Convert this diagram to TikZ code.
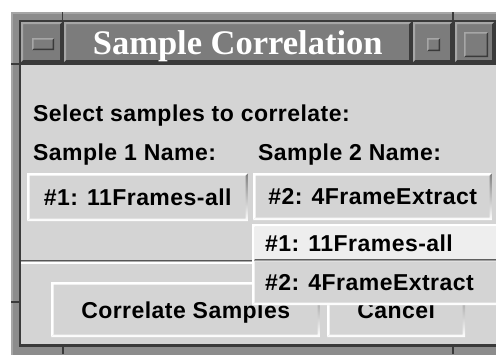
\documentclass[tikz,border=0pt]{standalone}
\usepackage{fontspec}
\setmainfont{Liberation Sans}
\newfontfamily\titlefont{Liberation Serif}
\newfontfamily\dialogfamily{Liberation Sans}[LetterSpace=2.0]
\usetikzlibrary{calc}

\definecolor{face}{RGB}{212,212,212}
\definecolor{shade}{RGB}{136,136,136}
\definecolor{selface}{RGB}{238,238,238}
\definecolor{wmface}{RGB}{124,124,124}
\definecolor{wmlight}{RGB}{166,166,166}
\definecolor{wmdark}{RGB}{58,58,58}
\definecolor{wmframe}{RGB}{140,140,140}

\newcommand{\uifont}{\dialogfamily\bfseries\fontsize{23}{26}\selectfont}

\tikzset{
  % raised 3D edge: light on top/left, dark on bottom/right
  bevel/.style n args={3}{path picture={
    \fill[#2] let \p1=(path picture bounding box.north west),
                  \p2=(path picture bounding box.south east) in
      (\x1,\y2) -- (\x1,\y1) -- (\x2,\y1) -- (\x2-#1,\y1-#1)
      -- (\x1+#1,\y1-#1) -- (\x1+#1,\y2+#1) -- cycle;
    \fill[#3] let \p1=(path picture bounding box.north west),
                  \p2=(path picture bounding box.south east) in
      (\x1,\y2) -- (\x2,\y2) -- (\x2,\y1) -- (\x2-#1,\y1-#1)
      -- (\x2-#1,\y2+#1) -- (\x1+#1,\y2+#1) -- cycle;
  }},
  wmbtn/.style={anchor=north west, inner sep=0pt, fill=wmface,
    bevel={2pt}{wmlight}{wmdark}},
  wmglyph/.style={anchor=north west, inner sep=0pt, fill=wmface,
    bevel={1.5pt}{wmlight}{wmdark}},
  pushbtn/.style={anchor=north west, inner sep=0pt, fill=face,
    bevel={2.5pt}{white}{shade}, font=\uifont, text depth=0pt},
  caption/.style={anchor=base west, inner sep=0pt, font=\uifont},
  menubox/.style={anchor=north west, inner sep=0pt, fill=face,
    bevel={2.5pt}{white}{shade}},
  menusel/.style={anchor=north west, inner sep=0pt, fill=selface},
  notch/.style={wmdark, line width=1.5pt},
}

\begin{document}
\begin{tikzpicture}[x=1pt, y=-1pt]
  \useasboundingbox (0,0) rectangle (496,354);
  \clip (0,0) rectangle (496,354);
  \fill[white] (0,0) rectangle (496,354);

  % window manager frame
  \fill[wmlight] (11,12) rectangle (500,360);
  \fill[wmframe] (13,14) rectangle (500,360);
  \fill[wmdark] (19,20) rectangle (500,347);
  % frame corner notches
  \draw[notch] (62.5,12) -- (62.5,20);
  \draw[notch] (453,12) -- (453,20);
  \draw[notch] (11,64) -- (19,64);
  \draw[notch] (11,302) -- (19,302);
  \draw[notch] (63,347) -- (63,354);
  \draw[notch] (453,347) -- (453,354);

  % title row
  \node[wmbtn, minimum width=41pt, minimum height=40pt] (closebtn) at (21,22) {};
  \node[wmglyph, minimum width=22pt, minimum height=12pt] (closeglyph) at (32,38) {};
  \node[wmbtn, minimum width=347pt, minimum height=40pt, text=white,
        font=\titlefont\bfseries\fontsize{34.5}{40}\selectfont, text depth=0pt]
        (titlebar) at (64,22) {Sample Correlation};
  \node[wmbtn, minimum width=39pt, minimum height=40pt] (minbtn) at (413,22) {};
  \node[wmglyph, minimum width=13pt, minimum height=13pt] (minglyph) at (427,38) {};
  \node[wmbtn, minimum width=39pt, minimum height=40pt] (maxbtn) at (455,22) {};
  \node[wmglyph, minimum width=24pt, minimum height=25pt] (maxglyph) at (464,32) {};

  % dialog body
  \fill[face] (21,65) rectangle (500,344);

  \node[caption] (prompt) at (33,121.5) {Select samples to correlate:};
  \node[caption] (name1) at (33,160) {Sample 1 Name:};
  \node[caption] (name2) at (258,160) {Sample 2 Name:};

  \node[pushbtn, minimum width=221pt, minimum height=48pt] (pick1) at (27,173) {\#1: 11Frames-all};
  \node[pushbtn, minimum width=239pt, minimum height=47pt] (pick2) at (253,173) {\#2: 4FrameExtract};

  % separator above the action buttons
  \fill[shade] (21,260.5) rectangle (500,262);
  \fill[white] (21,262) rectangle (500,263.5);

  \node[pushbtn, minimum width=269pt, minimum height=55pt] (correlate) at (51,282) {Correlate Samples};
  \node[pushbtn, minimum width=138pt, minimum height=55pt] (cancel) at (327,282) {Cancel};

  % open option menu of sample 2
  \node[menubox, minimum width=250pt, minimum height=81pt] (menu) at (252,224) {};
  \node[menusel, minimum width=246pt, minimum height=33pt] (item1) at (254.5,226.5) {};
  \fill[shade] (254.5,259.5) rectangle (500,261.5);
  \node[caption] (item1text) at (265,251.5) {\#1: 11Frames-all};
  \node[caption] (item2text) at (265,290) {\#2: 4FrameExtract};
\end{tikzpicture}
\end{document}
